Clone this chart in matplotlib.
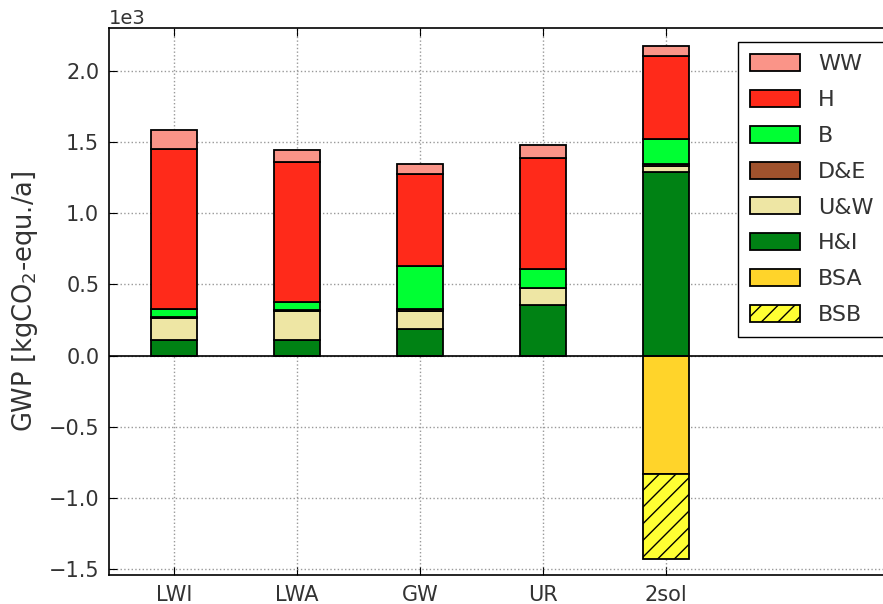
import numpy as np
import matplotlib
matplotlib.use("Agg")
import matplotlib.pyplot as plt

# ---- data (kgCO2-equ./a) ---------------------------------------------------
scenarios = ["LWI", "LWA", "GW", "UR", "2sol"]
hi  = [112, 112, 189, 353, 1289]    # H&I
uw  = [152, 199, 125, 122, 42]      # U&W
de  = [5, 10, 10, 3, 12]            # D&E
b   = [61, 56, 305, 128, 175]       # B
h   = [1123, 982, 648, 781, 585]    # H
ww  = [133, 87, 70, 94, 70]         # WW
bsa = [0, 0, 0, 0, -828]            # BSA
bsb = [0, 0, 0, 0, -602]            # BSB

colors = {
    "WW": "#fa9488", "H": "#ff2a1a", "B": "#00ff33", "D&E": "#a0522d",
    "U&W": "#eee6a4", "H&I": "#008214", "BSA": "#ffd42a", "BSB": "#ffff33",
}
txt = "#333333"

# ---- plot ------------------------------------------------------------------
fig = plt.figure(figsize=(8.83, 6.04), dpi=100)
ax = fig.add_axes([109 / 883, 1 - 575 / 604, 803 / 883, 547 / 604])

x = np.arange(len(scenarios))
w = 0.37
kw = dict(width=w, edgecolor="black", linewidth=1.3, zorder=3)

bottom = np.zeros(len(x))
handles = {}
for name, vals in [("H&I", hi), ("U&W", uw), ("D&E", de), ("B", b),
                   ("H", h), ("WW", ww)]:
    handles[name] = ax.bar(x, vals, bottom=bottom, color=colors[name],
                           label=name, **kw)
    bottom = bottom + np.array(vals)

handles["BSA"] = ax.bar(x, bsa, color=colors["BSA"], label="BSA", **kw)
handles["BSB"] = ax.bar(x, bsb, bottom=bsa, color=colors["BSB"], hatch="//",
                        label="BSB", **kw)

ax.axhline(0, color="black", lw=1.2, zorder=4)

ax.set_xlim(-0.53, 6.0)
ax.set_ylim(-1540, 2300)
ax.set_xticks(x)
ax.set_xticklabels(scenarios)
ax.set_yticks(np.arange(-1500, 2001, 500))
ax.ticklabel_format(axis="y", style="sci", scilimits=(3, 3))
ax.yaxis.get_offset_text().set_fontsize(14)
ax.yaxis.get_offset_text().set_color(txt)
ax.tick_params(axis="both", direction="in", top=True, right=True,
               labelsize=15, labelcolor=txt, length=6, pad=7)
ax.grid(True, color="#999999", linestyle=":", linewidth=1.0, zorder=0)
ax.set_axisbelow(True)
ax.set_ylabel("GWP [kgCO$_2$-equ./a]", fontsize=18.5, color=txt, labelpad=6)
for s in ax.spines.values():
    s.set_linewidth(1.2)

order = ["WW", "H", "B", "D&E", "U&W", "H&I", "BSA", "BSB"]
leg = fig.legend([handles[k] for k in order], order, loc="upper left",
                 bbox_to_anchor=(738 / 883, 1 - 42 / 604), fontsize=16,
                 frameon=True, fancybox=False, edgecolor="black",
                 framealpha=1, handlelength=2.25, handleheight=0.8,
                 handletextpad=0.8, labelspacing=0.7, borderpad=0.55,
                 borderaxespad=0)
for t in leg.get_texts():
    t.set_color(txt)

fig.savefig("out.png", dpi=100)
